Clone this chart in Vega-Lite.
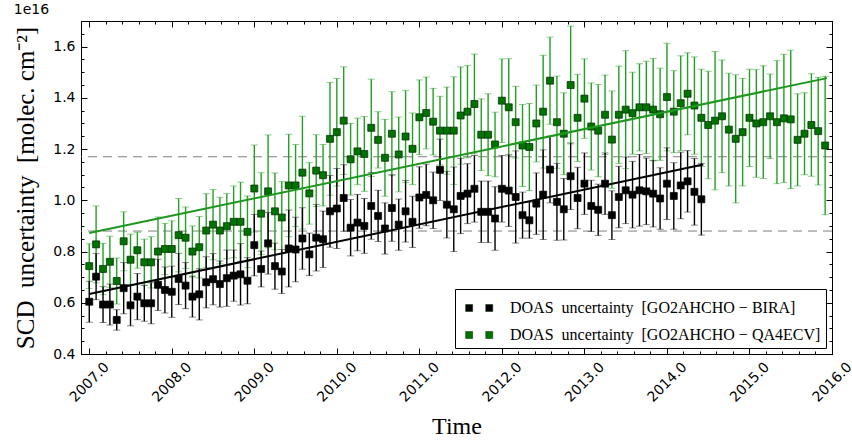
{
"$schema": "https://vega.github.io/schema/vega-lite/v6.json",
"width": 751, "height": 333,
"autosize": {"type": "none"},
"padding": {"left": 81, "top": 21, "right": 20, "bottom": 89},
"title": {"text": "1e16", "anchor": "start", "font": "DejaVu Sans", "fontSize": 14, "fontWeight": "normal", "offset": 4, "color": "black"},
"config": {
  "view": {"stroke": "black", "strokeWidth": 1},
  "axis": {"domain": false, "grid": false, "labelFont": "DejaVu Sans", "labelFontSize": 14, "labelColor": "black", "tickColor": "black", "tickWidth": 1, "titleFont": "Liberation Serif", "titleFontSize": 24, "titleFontWeight": "normal", "titleColor": "black"}
},
"datasets": {
"G": [
{"s":"G","t":2007.000,"v":0.743,"e":0.087},{"s":"G","t":2007.083,"v":0.828,"e":0.15},{"s":"G","t":2007.167,"v":0.732,"e":0.10},{"s":"G","t":2007.250,"v":0.760,"e":0.10},{"s":"G","t":2007.333,"v":0.685,"e":0.09},{"s":"G","t":2007.417,"v":0.840,"e":0.115},{"s":"G","t":2007.500,"v":0.768,"e":0.10},{"s":"G","t":2007.583,"v":0.805,"e":0.07},{"s":"G","t":2007.667,"v":0.758,"e":0.09},{"s":"G","t":2007.750,"v":0.758,"e":0.10},{"s":"G","t":2007.833,"v":0.800,"e":0.135},{"s":"G","t":2007.917,"v":0.810,"e":0.10},
{"s":"G","t":2008.000,"v":0.810,"e":0.11},{"s":"G","t":2008.083,"v":0.864,"e":0.143},{"s":"G","t":2008.167,"v":0.854,"e":0.12},{"s":"G","t":2008.250,"v":0.800,"e":0.10},{"s":"G","t":2008.333,"v":0.817,"e":0.12},{"s":"G","t":2008.417,"v":0.882,"e":0.144},{"s":"G","t":2008.500,"v":0.905,"e":0.137},{"s":"G","t":2008.583,"v":0.882,"e":0.13},{"s":"G","t":2008.667,"v":0.899,"e":0.127},{"s":"G","t":2008.750,"v":0.916,"e":0.14},{"s":"G","t":2008.833,"v":0.916,"e":0.155},{"s":"G","t":2008.917,"v":0.877,"e":0.14},
{"s":"G","t":2009.000,"v":1.046,"e":0.17},{"s":"G","t":2009.083,"v":0.948,"e":0.16},{"s":"G","t":2009.167,"v":1.035,"e":0.22},{"s":"G","t":2009.250,"v":0.957,"e":0.15},{"s":"G","t":2009.333,"v":0.933,"e":0.14},{"s":"G","t":2009.417,"v":1.058,"e":0.20},{"s":"G","t":2009.500,"v":1.058,"e":0.16},{"s":"G","t":2009.583,"v":1.108,"e":0.22},{"s":"G","t":2009.667,"v":1.027,"e":0.12},{"s":"G","t":2009.750,"v":1.116,"e":0.14},{"s":"G","t":2009.833,"v":1.098,"e":0.12},{"s":"G","t":2009.917,"v":1.240,"e":0.22},
{"s":"G","t":2010.000,"v":1.266,"e":0.21},{"s":"G","t":2010.083,"v":1.311,"e":0.21},{"s":"G","t":2010.167,"v":1.160,"e":0.14},{"s":"G","t":2010.250,"v":1.191,"e":0.13},{"s":"G","t":2010.333,"v":1.181,"e":0.146},{"s":"G","t":2010.417,"v":1.283,"e":0.19},{"s":"G","t":2010.500,"v":1.236,"e":0.11},{"s":"G","t":2010.583,"v":1.166,"e":0.15},{"s":"G","t":2010.667,"v":1.260,"e":0.164},{"s":"G","t":2010.750,"v":1.179,"e":0.146},{"s":"G","t":2010.833,"v":1.249,"e":0.18},{"s":"G","t":2010.917,"v":1.201,"e":0.14},
{"s":"G","t":2011.000,"v":1.324,"e":0.146},{"s":"G","t":2011.083,"v":1.341,"e":0.14},{"s":"G","t":2011.167,"v":1.307,"e":0.13},{"s":"G","t":2011.250,"v":1.272,"e":0.134},{"s":"G","t":2011.333,"v":1.272,"e":0.17},{"s":"G","t":2011.417,"v":1.272,"e":0.21},{"s":"G","t":2011.500,"v":1.331,"e":0.19},{"s":"G","t":2011.583,"v":1.346,"e":0.18},{"s":"G","t":2011.667,"v":1.376,"e":0.195},{"s":"G","t":2011.750,"v":1.256,"e":0.14},{"s":"G","t":2011.833,"v":1.256,"e":0.16},{"s":"G","t":2011.917,"v":1.218,"e":0.126},
{"s":"G","t":2012.000,"v":1.389,"e":0.163},{"s":"G","t":2012.083,"v":1.363,"e":0.19},{"s":"G","t":2012.167,"v":1.305,"e":0.14},{"s":"G","t":2012.250,"v":1.214,"e":0.16},{"s":"G","t":2012.333,"v":1.208,"e":0.17},{"s":"G","t":2012.417,"v":1.300,"e":0.15},{"s":"G","t":2012.500,"v":1.346,"e":0.22},{"s":"G","t":2012.583,"v":1.467,"e":0.17},{"s":"G","t":2012.667,"v":1.305,"e":0.18},{"s":"G","t":2012.750,"v":1.260,"e":0.16},{"s":"G","t":2012.833,"v":1.450,"e":0.23},{"s":"G","t":2012.917,"v":1.322,"e":0.17},
{"s":"G","t":2013.000,"v":1.397,"e":0.155},{"s":"G","t":2013.083,"v":1.288,"e":0.17},{"s":"G","t":2013.167,"v":1.272,"e":0.18},{"s":"G","t":2013.250,"v":1.334,"e":0.155},{"s":"G","t":2013.333,"v":1.237,"e":0.19},{"s":"G","t":2013.417,"v":1.334,"e":0.19},{"s":"G","t":2013.500,"v":1.354,"e":0.23},{"s":"G","t":2013.583,"v":1.340,"e":0.16},{"s":"G","t":2013.667,"v":1.363,"e":0.17},{"s":"G","t":2013.750,"v":1.363,"e":0.18},{"s":"G","t":2013.833,"v":1.354,"e":0.20},{"s":"G","t":2013.917,"v":1.336,"e":0.18},
{"s":"G","t":2014.000,"v":1.403,"e":0.21},{"s":"G","t":2014.083,"v":1.346,"e":0.16},{"s":"G","t":2014.167,"v":1.379,"e":0.185},{"s":"G","t":2014.250,"v":1.416,"e":0.16},{"s":"G","t":2014.333,"v":1.370,"e":0.19},{"s":"G","t":2014.417,"v":1.322,"e":0.19},{"s":"G","t":2014.500,"v":1.294,"e":0.21},{"s":"G","t":2014.583,"v":1.311,"e":0.27},{"s":"G","t":2014.667,"v":1.328,"e":0.22},{"s":"G","t":2014.750,"v":1.276,"e":0.22},{"s":"G","t":2014.833,"v":1.240,"e":0.25},{"s":"G","t":2014.917,"v":1.266,"e":0.21},
{"s":"G","t":2015.000,"v":1.322,"e":0.19},{"s":"G","t":2015.083,"v":1.300,"e":0.21},{"s":"G","t":2015.167,"v":1.305,"e":0.22},{"s":"G","t":2015.250,"v":1.328,"e":0.165},{"s":"G","t":2015.333,"v":1.305,"e":0.24},{"s":"G","t":2015.417,"v":1.320,"e":0.25},{"s":"G","t":2015.500,"v":1.316,"e":0.27},{"s":"G","t":2015.583,"v":1.236,"e":0.18},{"s":"G","t":2015.667,"v":1.260,"e":0.16},{"s":"G","t":2015.750,"v":1.294,"e":0.20},{"s":"G","t":2015.833,"v":1.270,"e":0.21},{"s":"G","t":2015.917,"v":1.214,"e":0.27}
],
"B": [
{"s":"B","t":2007.000,"v":0.604,"e":0.08},{"s":"B","t":2007.083,"v":0.702,"e":0.09},{"s":"B","t":2007.167,"v":0.593,"e":0.07},{"s":"B","t":2007.250,"v":0.593,"e":0.08},{"s":"B","t":2007.333,"v":0.533,"e":0.04},{"s":"B","t":2007.417,"v":0.657,"e":0.10},{"s":"B","t":2007.500,"v":0.590,"e":0.08},{"s":"B","t":2007.583,"v":0.624,"e":0.09},{"s":"B","t":2007.667,"v":0.598,"e":0.07},{"s":"B","t":2007.750,"v":0.598,"e":0.08},{"s":"B","t":2007.833,"v":0.670,"e":0.10},{"s":"B","t":2007.917,"v":0.650,"e":0.09},
{"s":"B","t":2008.000,"v":0.643,"e":0.10},{"s":"B","t":2008.083,"v":0.693,"e":0.10},{"s":"B","t":2008.167,"v":0.667,"e":0.09},{"s":"B","t":2008.250,"v":0.624,"e":0.08},{"s":"B","t":2008.333,"v":0.633,"e":0.10},{"s":"B","t":2008.417,"v":0.680,"e":0.10},{"s":"B","t":2008.500,"v":0.692,"e":0.10},{"s":"B","t":2008.583,"v":0.673,"e":0.09},{"s":"B","t":2008.667,"v":0.696,"e":0.11},{"s":"B","t":2008.750,"v":0.706,"e":0.10},{"s":"B","t":2008.833,"v":0.711,"e":0.12},{"s":"B","t":2008.917,"v":0.686,"e":0.09},
{"s":"B","t":2009.000,"v":0.825,"e":0.12},{"s":"B","t":2009.083,"v":0.732,"e":0.07},{"s":"B","t":2009.167,"v":0.832,"e":0.12},{"s":"B","t":2009.250,"v":0.743,"e":0.09},{"s":"B","t":2009.333,"v":0.722,"e":0.086},{"s":"B","t":2009.417,"v":0.812,"e":0.15},{"s":"B","t":2009.500,"v":0.808,"e":0.126},{"s":"B","t":2009.583,"v":0.851,"e":0.12},{"s":"B","t":2009.667,"v":0.789,"e":0.083},{"s":"B","t":2009.750,"v":0.854,"e":0.13},{"s":"B","t":2009.833,"v":0.848,"e":0.11},{"s":"B","t":2009.917,"v":0.957,"e":0.14},
{"s":"B","t":2010.000,"v":0.968,"e":0.156},{"s":"B","t":2010.083,"v":1.009,"e":0.13},{"s":"B","t":2010.167,"v":0.893,"e":0.11},{"s":"B","t":2010.250,"v":0.913,"e":0.11},{"s":"B","t":2010.333,"v":0.900,"e":0.107},{"s":"B","t":2010.417,"v":0.978,"e":0.13},{"s":"B","t":2010.500,"v":0.939,"e":0.10},{"s":"B","t":2010.583,"v":0.890,"e":0.10},{"s":"B","t":2010.667,"v":0.970,"e":0.13},{"s":"B","t":2010.750,"v":0.905,"e":0.10},{"s":"B","t":2010.833,"v":0.957,"e":0.12},{"s":"B","t":2010.917,"v":0.916,"e":0.10},
{"s":"B","t":2011.000,"v":1.011,"e":0.12},{"s":"B","t":2011.083,"v":1.021,"e":0.12},{"s":"B","t":2011.167,"v":1.000,"e":0.11},{"s":"B","t":2011.250,"v":1.119,"e":0.12},{"s":"B","t":2011.333,"v":0.983,"e":0.13},{"s":"B","t":2011.417,"v":0.965,"e":0.165},{"s":"B","t":2011.500,"v":1.017,"e":0.147},{"s":"B","t":2011.583,"v":1.026,"e":0.117},{"s":"B","t":2011.667,"v":1.045,"e":0.13},{"s":"B","t":2011.750,"v":0.955,"e":0.12},{"s":"B","t":2011.833,"v":0.955,"e":0.12},{"s":"B","t":2011.917,"v":0.929,"e":0.124},
{"s":"B","t":2012.000,"v":1.045,"e":0.13},{"s":"B","t":2012.083,"v":1.038,"e":0.14},{"s":"B","t":2012.167,"v":1.013,"e":0.18},{"s":"B","t":2012.250,"v":0.942,"e":0.09},{"s":"B","t":2012.333,"v":0.922,"e":0.07},{"s":"B","t":2012.417,"v":0.987,"e":0.12},{"s":"B","t":2012.500,"v":1.022,"e":0.175},{"s":"B","t":2012.583,"v":1.120,"e":0.13},{"s":"B","t":2012.667,"v":0.994,"e":0.15},{"s":"B","t":2012.750,"v":0.965,"e":0.12},{"s":"B","t":2012.833,"v":1.094,"e":0.13},{"s":"B","t":2012.917,"v":1.009,"e":0.12},
{"s":"B","t":2013.000,"v":1.065,"e":0.12},{"s":"B","t":2013.083,"v":0.978,"e":0.10},{"s":"B","t":2013.167,"v":0.963,"e":0.10},{"s":"B","t":2013.250,"v":1.065,"e":0.12},{"s":"B","t":2013.333,"v":0.942,"e":0.095},{"s":"B","t":2013.417,"v":1.013,"e":0.12},{"s":"B","t":2013.500,"v":1.039,"e":0.13},{"s":"B","t":2013.583,"v":1.022,"e":0.13},{"s":"B","t":2013.667,"v":1.039,"e":0.14},{"s":"B","t":2013.750,"v":1.035,"e":0.13},{"s":"B","t":2013.833,"v":1.026,"e":0.13},{"s":"B","t":2013.917,"v":1.007,"e":0.12},
{"s":"B","t":2014.000,"v":1.065,"e":0.14},{"s":"B","t":2014.083,"v":1.017,"e":0.13},{"s":"B","t":2014.167,"v":1.058,"e":0.13},{"s":"B","t":2014.250,"v":1.074,"e":0.12},{"s":"B","t":2014.333,"v":1.033,"e":0.13},{"s":"B","t":2014.417,"v":1.004,"e":0.14}
],
"fitG": [{"t":2007.0,"v":0.872},{"t":2015.94,"v":1.477}],
"fitB": [{"t":2007.0,"v":0.634},{"t":2014.44,"v":1.140}],
"ref": [{"y":1.17},{"y":0.88}]
},
"layer": [
{
  "data": {"name": "ref"},
  "mark": {"type": "rule", "color": "#7f7f7f", "strokeWidth": 1, "strokeDash": [9, 6]},
  "encoding": {
    "y": {"field": "y", "type": "quantitative", "scale": {"domain": [0.4, 1.7], "nice": false, "zero": false},
      "axis": {"orient": "left", "labels": false, "title": null, "tickSize": -3, "values": [0.4,0.45,0.5,0.55,0.6,0.65,0.7,0.75,0.8,0.85,0.9,0.95,1.0,1.05,1.1,1.15,1.2,1.25,1.3,1.35,1.4,1.45,1.5,1.55,1.6,1.65,1.7]}}
  }
},
{
  "data": {"name": "G"},
  "mark": {"type": "errorbar", "color": "#22a022", "thickness": 1.4, "ticks": {"size": 7, "thickness": 1, "color": "#5cb85c"}},
  "encoding": {
    "x": {"field": "t", "type": "quantitative", "scale": {"domain": [2006.9, 2016.0], "nice": false, "zero": false},
      "axis": {"orient": "bottom", "labels": false, "title": null, "tickSize": -3, "values": [2007.0,2007.2,2007.4,2007.6,2007.8,2008.0,2008.2,2008.4,2008.6,2008.8,2009.0,2009.2,2009.4,2009.6,2009.8,2010.0,2010.2,2010.4,2010.6,2010.8,2011.0,2011.2,2011.4,2011.6,2011.8,2012.0,2012.2,2012.4,2012.6,2012.8,2013.0,2013.2,2013.4,2013.6,2013.8,2014.0,2014.2,2014.4,2014.6,2014.8,2015.0,2015.2,2015.4,2015.6,2015.8,2016.0]}},
    "y": {"field": "v", "type": "quantitative", "scale": {"domain": [0.4, 1.7], "nice": false, "zero": false},
      "axis": {"orient": "right", "labels": false, "title": null, "tickSize": -3, "values": [0.4,0.45,0.5,0.55,0.6,0.65,0.7,0.75,0.8,0.85,0.9,0.95,1.0,1.05,1.1,1.15,1.2,1.25,1.3,1.35,1.4,1.45,1.5,1.55,1.6,1.65,1.7]}},
    "yError": {"field": "e"}
  }
},
{
  "data": {"name": "B"},
  "mark": {"type": "errorbar", "color": "#000000", "thickness": 1.4, "ticks": {"size": 7, "thickness": 1, "color": "#555555"}},
  "encoding": {
    "x": {"field": "t", "type": "quantitative", "scale": {"domain": [2006.9, 2016.0], "nice": false, "zero": false}, "axis": null},
    "y": {"field": "v", "type": "quantitative", "scale": {"domain": [0.4, 1.7], "nice": false, "zero": false}, "axis": null},
    "yError": {"field": "e"}
  }
},
{
  "data": {"name": "G"},
  "mark": {"type": "square", "size": 49, "filled": true, "opacity": 1, "stroke": "#002a00", "strokeWidth": 0.7},
  "encoding": {
    "x": {"field": "t", "type": "quantitative", "scale": {"domain": [2006.9, 2016.0], "nice": false, "zero": false},
      "axis": {"orient": "top", "labels": false, "title": null, "tickSize": -3, "values": [2007.0,2007.2,2007.4,2007.6,2007.8,2008.0,2008.2,2008.4,2008.6,2008.8,2009.0,2009.2,2009.4,2009.6,2009.8,2010.0,2010.2,2010.4,2010.6,2010.8,2011.0,2011.2,2011.4,2011.6,2011.8,2012.0,2012.2,2012.4,2012.6,2012.8,2013.0,2013.2,2013.4,2013.6,2013.8,2014.0,2014.2,2014.4,2014.6,2014.8,2015.0,2015.2,2015.4,2015.6,2015.8,2016.0]}},
    "y": {"field": "v", "type": "quantitative", "scale": {"domain": [0.4, 1.7], "nice": false, "zero": false}, "axis": null},
    "color": {"field": "s", "type": "nominal", "scale": {"domain": ["B", "G"], "range": ["#000000", "#007200"]}}
  }
},
{
  "data": {"name": "B"},
  "mark": {"type": "square", "size": 49, "filled": true, "opacity": 1, "stroke": "#000000", "strokeWidth": 0.7},
  "encoding": {
    "x": {"field": "t", "type": "quantitative", "scale": {"domain": [2006.9, 2016.0], "nice": false, "zero": false},
      "axis": {"orient": "bottom", "values": [2007,2008,2009,2010,2011,2012,2013,2014,2015,2016], "format": ".1f", "tickSize": -6, "labelAngle": -45, "labelAlign": "center", "labelBaseline": "middle", "labelPadding": 34, "title": "Time", "titlePadding": 10}},
    "y": {"field": "v", "type": "quantitative", "scale": {"domain": [0.4, 1.7], "nice": false, "zero": false},
      "axis": {"orient": "left", "values": [0.4,0.6,0.8,1.0,1.2,1.4,1.6], "format": ".1f", "tickSize": -6, "labelPadding": 12, "title": "SCD\u00a0 uncertainty\u00a0 [molec. cm\u207b\u00b2]", "titleFontSize": 25, "titlePadding": 14}},
    "color": {"field": "s", "type": "nominal", "scale": {"domain": ["B", "G"], "range": ["#000000", "#007200"]},
      "legend": {"title": null, "orient": "bottom-right", "offset": 6, "padding": 5, "strokeColor": "black", "fillColor": "white",
        "values": ["B", "G"],
        "symbolType": "M-0.62,-0.26H-0.1V0.26H-0.62Z M0.87,-0.26H1.39V0.26H0.87Z", "symbolSize": 729, "symbolStrokeColor": "black", "symbolStrokeWidth": 0.5, "symbolOpacity": 1,
        "labelFont": "Liberation Serif", "labelFontSize": 16, "labelColor": "black", "labelOffset": 22, "labelLimit": 500, "rowPadding": 5,
        "labelExpr": "datum.label == 'B' ? 'DOAS\u00a0 uncertainty\u00a0 [GO2AHCHO \u2212 BIRA]' : 'DOAS\u00a0 uncertainty\u00a0 [GO2AHCHO \u2212 QA4ECV]'"}}
  }
},
{
  "data": {"name": "fitG"},
  "mark": {"type": "line", "color": "#1f961f", "strokeWidth": 2},
  "encoding": {
    "x": {"field": "t", "type": "quantitative", "scale": {"domain": [2006.9, 2016.0], "nice": false, "zero": false},
      "axis": {"orient": "top", "labels": false, "title": null, "tickSize": -6, "values": [2007,2008,2009,2010,2011,2012,2013,2014,2015,2016]}},
    "y": {"field": "v", "type": "quantitative", "scale": {"domain": [0.4, 1.7], "nice": false, "zero": false},
      "axis": {"orient": "right", "labels": false, "title": null, "tickSize": -6, "values": [0.4,0.6,0.8,1.0,1.2,1.4,1.6]}}
  }
},
{
  "data": {"name": "fitB"},
  "mark": {"type": "line", "color": "#000000", "strokeWidth": 2},
  "encoding": {
    "x": {"field": "t", "type": "quantitative", "scale": {"domain": [2006.9, 2016.0], "nice": false, "zero": false}, "axis": null},
    "y": {"field": "v", "type": "quantitative", "scale": {"domain": [0.4, 1.7], "nice": false, "zero": false}, "axis": null}
  }
}
],
"resolve": {"axis": {"x": "independent", "y": "independent"}}
}
